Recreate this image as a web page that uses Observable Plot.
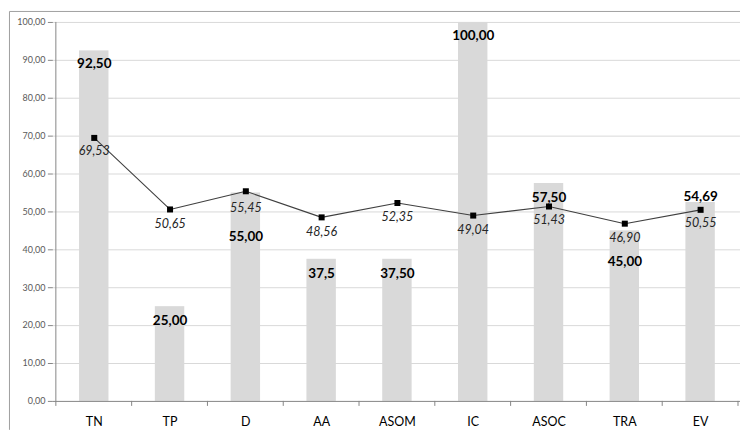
<!DOCTYPE html>
<html>
<head>
<meta charset="utf-8">
<script src="https://cdn.jsdelivr.net/npm/d3@7"></script>
<script src="https://cdn.jsdelivr.net/npm/@observablehq/plot@0.6"></script>
<style>
  html, body { margin: 0; padding: 0; background: #fff; overflow: hidden; width: 740px; height: 431px; }
  #chart { position: absolute; left: 0; top: 0; width: 740px; height: 431px; overflow: hidden; }
</style>
</head>
<body>
<div id="chart"></div>
<script>
const categories = ["TN", "TP", "D", "AA", "ASOM", "IC", "ASOC", "TRA", "EV"];
const barValues  = [92.5, 25, 55, 37.5, 37.5, 100, 57.5, 45, 52.5];
const barLabels  = ["92,50", "25,00", "55,00", "37,5", "37,50", "100,00", "57,50", "45,00", "54,69"];
const lineValues = [69.53, 50.65, 55.45, 48.56, 52.35, 49.04, 51.43, 46.90, 50.55];
const yTicks     = [0, 10, 20, 30, 40, 50, 60, 70, 80, 90, 100];

// label offsets (px) as placed in the original
const barLabelDy  = [13, 14, 44, 14, 14, 13, 14, 31, -6];
const lineLabelDy = [13, 15, 17, 15, 14, 14, 14, 14, 13];

const rows = categories.map((c, i) => ({
  cat: c, bar: barValues[i], barLabel: barLabels[i], line: lineValues[i]
}));
const fmt = v => v.toFixed(2).replace(".", ",");
const FONT = "Lato, 'Open Sans', sans-serif";

// chart-area border (left + top), y axis line and x tick marks at category boundaries
function axesAndBorder(index, scales, values, dims) {
  const g = d3.create("svg:g").attr("fill", "none");
  g.append("path").attr("d", `M9.5,${dims.height}V11.5H${dims.width}`)
    .attr("stroke", "#a0a0a0");
  const y0 = scales.y(0);
  const step = scales.x.step ? scales.x.step() : scales.x.bandwidth();
  const xs = categories.map(c => scales.x(c));
  xs.push(xs[xs.length - 1] + step);
  g.append("line").attr("x1", xs[0]).attr("x2", xs[0])
    .attr("y1", scales.y(100)).attr("y2", y0 + 5).attr("stroke", "#868686");
  for (const x of xs.slice(1)) {
    g.append("line").attr("x1", x).attr("x2", x).attr("y1", y0).attr("y2", y0 + 5)
      .attr("stroke", "#868686");
  }
  return g.node();
}

const chart = Plot.plot({
  width: 742,
  height: 431,
  marginLeft: 53,
  marginRight: 0,
  marginTop: 22,
  marginBottom: 29,
  style: { fontFamily: FONT, background: "transparent" },
  x: { type: "band", domain: categories, padding: 0, axis: null },
  y: { domain: [0, 100], axis: null },
  marks: [
    Plot.ruleY(yTicks.filter(d => d > 0), { stroke: "#d9d9d9", strokeWidth: 1 }),
    Plot.barY(rows, { x: "cat", y: "bar", fill: "#d9d9d9", insetLeft: 23.25, insetRight: 23.25 }),
    Plot.ruleY([0], { stroke: "#868686" }),
    axesAndBorder,
    Plot.axisY(yTicks, {
      tickFormat: fmt, fontSize: 9, color: "#595959", stroke: "#868686",
      tickSize: 5, tickPadding: 3, label: null
    }),
    Plot.axisX({ tickSize: 0, tickPadding: 16, fontSize: 12.5, color: "#000", label: null }),
    Plot.line(rows, { x: "cat", y: "line", stroke: "#404040", strokeWidth: 1.1 }),
    Plot.dot(rows, { x: "cat", y: "line", symbol: "square", fill: "#000", stroke: "none", r: 3.4 }),
    ...rows.map((r, i) => Plot.text([r], {
      x: "cat", y: "line", text: d => fmt(d.line), dy: lineLabelDy[i],
      fontStyle: "italic", fontSize: 12.5, fill: "#262626"
    })),
    ...rows.map((r, i) => Plot.text([r], {
      x: "cat", y: "bar", text: "barLabel", dy: barLabelDy[i],
      fontWeight: "bold", fontSize: 13.5, fill: "#000"
    }))
  ]
});
document.getElementById("chart").appendChild(chart);
</script>
</body>
</html>
